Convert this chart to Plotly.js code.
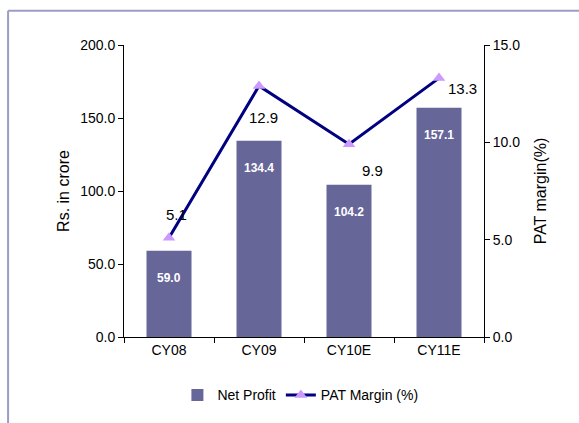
<!DOCTYPE html>
<html>
<head>
<meta charset="utf-8">
<script src="https://cdn.plot.ly/plotly-3.0.1.min.js"></script>
<style>
  html, body { margin: 0; padding: 0; background: #ffffff; }
  #chart { width: 579px; height: 423px; }
</style>
</head>
<body>
<div id="chart"></div>
<script>
// Net profit (Rs. crore) and PAT margin (%) by calendar year
const years = ['CY08', 'CY09', 'CY10E', 'CY11E'];
const netProfit = [59.0, 134.4, 104.2, 157.1];
const patMargin = [5.1, 12.9, 9.9, 13.3];

// label offsets (px) for the margin values, per point
const marginLabelShiftX = [7, 4, 23, 23];
const marginLabelShiftY = [23, -32, -26, -10];

const font = '"Liberation Sans", Arial, sans-serif';

const bars = {
  type: 'bar',
  name: 'Net Profit',
  x: years,
  y: netProfit,
  marker: { color: '#666699' },
  yaxis: 'y',
  hoverinfo: 'skip'
};

const line = {
  type: 'scatter',
  mode: 'lines+markers',
  name: 'PAT Margin (%)',
  x: years,
  y: patMargin,
  yaxis: 'y2',
  line: { color: '#000080', width: 3 },
  marker: { symbol: 'triangle-up', size: 11, color: '#cc99ff' },
  hoverinfo: 'skip'
};

const annotations = [];
netProfit.forEach((v, i) => {
  annotations.push({
    x: years[i], y: v, xref: 'x', yref: 'y',
    text: '<b>' + v.toFixed(1) + '</b>',
    showarrow: false, yshift: -27,
    font: { family: font, size: 12, color: '#ffffff' }
  });
});
patMargin.forEach((v, i) => {
  annotations.push({
    x: years[i], y: v, xref: 'x', yref: 'y2',
    text: v.toFixed(1),
    showarrow: false,
    xshift: marginLabelShiftX[i], yshift: marginLabelShiftY[i],
    font: { family: font, size: 15, color: '#000000' }
  });
});

const frameColor = '#9c9cc6';
const layout = {
  width: 579, height: 423,
  margin: { l: 124, r: 95, t: 45, b: 86 },
  paper_bgcolor: '#ffffff',
  plot_bgcolor: '#ffffff',
  font: { family: font, size: 14, color: '#000000' },
  bargap: 0.5,
  showlegend: true,
  legend: {
    orientation: 'h', x: 0.49, xanchor: 'center', y: -0.2, yanchor: 'middle',
    font: { family: font, size: 14 }, itemwidth: 30, tracegroupgap: 0
  },
  xaxis: {
    type: 'category',
    showline: true, linecolor: '#000000', linewidth: 1,
    ticks: 'outside', tickson: 'boundaries', ticklen: 5, tickcolor: '#000000',
    tickfont: { family: font, size: 14 },
    showgrid: false, zeroline: false, fixedrange: true
  },
  yaxis: {
    range: [0, 200], tick0: 0, dtick: 50, tickformat: '.1f',
    showline: true, linecolor: '#000000', linewidth: 1,
    ticks: 'outside', ticklen: 5, tickcolor: '#000000',
    tickfont: { family: font, size: 14 },
    showgrid: false, zeroline: false,
    title: { text: 'Rs. in crore', font: { family: font, size: 16 }, standoff: 6 }
  },
  yaxis2: {
    overlaying: 'y', side: 'right',
    range: [0, 15], tick0: 0, dtick: 5, tickformat: '.1f',
    showline: true, linecolor: '#000000', linewidth: 1,
    ticks: 'outside', ticklen: 5, tickcolor: '#000000',
    tickfont: { family: font, size: 14 },
    showgrid: false, zeroline: false,
    title: { text: 'PAT margin(%)', font: { family: font, size: 16 }, standoff: 15 }
  },
  annotations: annotations,
  shapes: [
    { type: 'line', xref: 'paper', yref: 'paper', x0: -0.322, x1: 1.3, y0: 1.117, y1: 1.117,
      line: { color: frameColor, width: 2 } },
    { type: 'line', xref: 'paper', yref: 'paper', x0: -0.322, x1: -0.322, y0: 1.117, y1: -0.3,
      line: { color: frameColor, width: 2 } }
  ]
};

Plotly.newPlot('chart', [bars, line], layout, { displayModeBar: false, staticPlot: true });
</script>
</body>
</html>
